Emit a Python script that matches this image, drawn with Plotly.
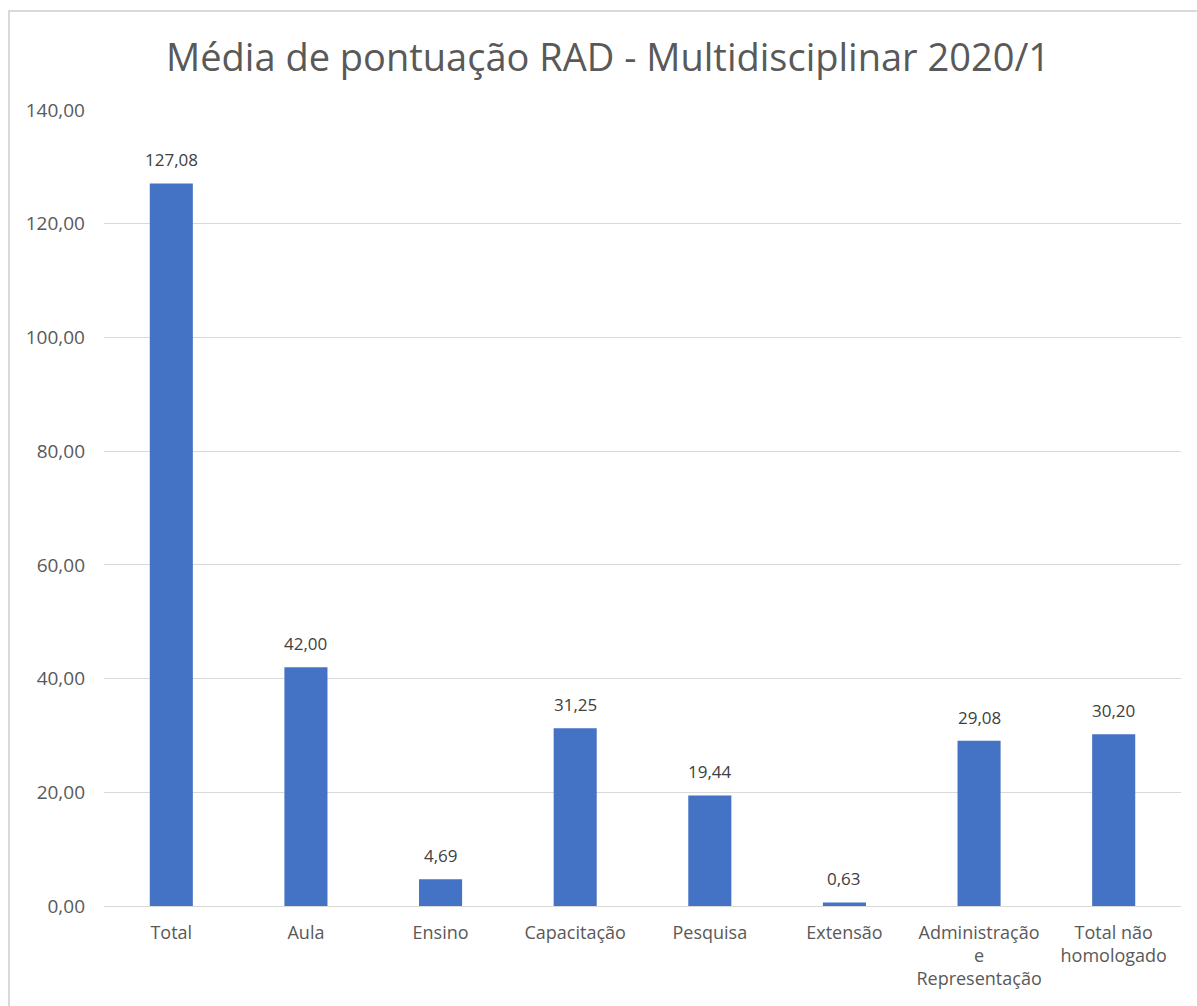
import plotly.graph_objects as go

categories = ["Total", "Aula", "Ensino", "Capacitação", "Pesquisa", "Extensão",
              "Administração<br>e<br>Representação", "Total não<br>homologado"]
values = [127.08, 42.00, 4.69, 31.25, 19.44, 0.63, 29.08, 30.20]
y_ticks = [0, 20, 40, 60, 80, 100, 120, 140]

fig = go.Figure(go.Bar(
    x=categories, y=values,
    marker=dict(color="#4472C4", line=dict(width=0)),
    cliponaxis=False,
))

for c, v in zip(categories, values):
    fig.add_annotation(x=c, y=v, text=f"{v:.2f}".replace(".", ","),
                       showarrow=False, yanchor="bottom", yshift=10,
                       font=dict(size=17, color="#404040", family="Open Sans"))

fig.update_layout(
    width=1197, height=1006,
    margin=dict(l=104, r=16, t=110, b=100),
    paper_bgcolor="white", plot_bgcolor="white",
    separators=",.",
    bargap=0.68,
    showlegend=False,
    font=dict(family="Open Sans", color="#595959", size=18),
    title=dict(text="Média de pontuação RAD - Multidisciplinar 2020/1",
               x=0.508, xanchor="center", y=0.943, yanchor="middle",
               font=dict(size=38, color="#595959", family="Open Sans")),
    shapes=[dict(type="rect", xref="paper", yref="paper",
                 x0=-0.0882, x1=1.2, y0=-0.3, y1=1.1244,
                 line=dict(color="#d9d9d9", width=2), fillcolor="rgba(0,0,0,0)",
                 layer="below")],
)
fig.update_yaxes(range=[0, 140], tickvals=y_ticks, tickformat=".2f",
                 showgrid=True, gridcolor="#d9d9d9", gridwidth=1,
                 zeroline=False, showline=False, ticks="",
                 ticklabelstandoff=18,
                 tickfont=dict(size=19, color="#595959"))
fig.update_xaxes(showline=True, linecolor="#d9d9d9", linewidth=1, ticks="",
                 ticklabelstandoff=10,
                 tickfont=dict(size=18, color="#595959"), tickangle=0)

fig.write_html("out.html", config={"displayModeBar": False},
               post_script="document.body.style.margin='0';document.body.style.overflow='hidden';")
